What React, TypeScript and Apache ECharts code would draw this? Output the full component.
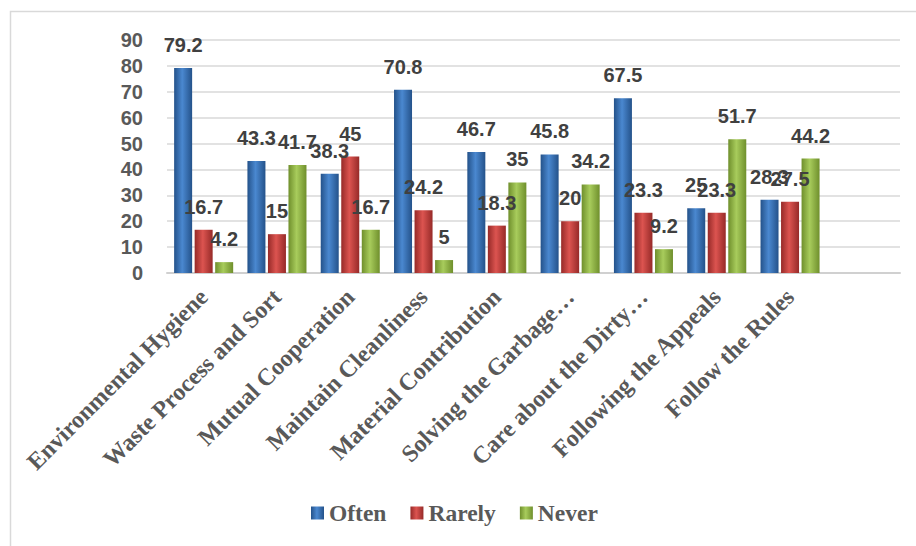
import React, { useEffect, useRef } from "react";
import * as echarts from "echarts";

const categories = [
  "Environmental Hygiene",
  "Waste Process and Sort",
  "Mutual Cooperation",
  "Maintain Cleanliness",
  "Material Contribution",
  "Solving the Garbage…",
  "Care about the Dirty…",
  "Following the Appeals",
  "Follow the Rules",
  "",
];
const often = [79.2, 43.3, 38.3, 70.8, 46.7, 45.8, 67.5, 25, 28.3, null];
const rarely = [16.7, 15, 45, 24.2, 18.3, 20, 23.3, 23.3, 27.5, null];
const never = [4.2, 41.7, 16.7, 5, 35, 34.2, 9.2, 51.7, 44.2, null];
const seriesNames = ["Often", "Rarely", "Never"];

function grad(edge: string, mid: string) {
  return new echarts.graphic.LinearGradient(0, 0, 1, 0, [
    { offset: 0, color: edge },
    { offset: 0.45, color: mid },
    { offset: 1, color: edge },
  ]);
}

export default function App() {
  const ref = useRef<HTMLDivElement>(null);
  useEffect(() => {
    if (!ref.current) return;
    const chart = echarts.init(ref.current, null, { renderer: "svg" });
    const colors = [
      grad("#24528a", "#4a88d0"),
      grad("#962a28", "#dc5450"),
      grad("#6f8f2c", "#a8cc5c"),
    ];
    const datas = [often, rarely, never];
    const labelStyle = {
      show: true,
      position: "top" as const,
      distance: 13,
      fontFamily: "Liberation Sans, Arial, sans-serif",
      fontWeight: "bold" as const,
      fontSize: 20,
      color: "#404040",
    };
    chart.setOption({
      animation: false,
      backgroundColor: "#ffffff",
      graphic: [
        {
          type: "rect",
          shape: { x: 10.5, y: 11.5, width: 960, height: 600 },
          style: { fill: "none", stroke: "#d9d9d9", lineWidth: 1.5 },
          silent: true,
        },
      ],
      grid: { left: 167, right: 16, top: 40, bottom: 273 },
      legend: {
        bottom: 16,
        left: 306,
        itemWidth: 13,
        itemHeight: 13,
        itemGap: 24,
        icon: "rect",
        textStyle: {
          fontFamily: "Liberation Serif, Times New Roman, serif",
          fontWeight: "bold",
          fontSize: 23.5,
          color: "#595959",
        },
        data: seriesNames,
      },
      xAxis: {
        type: "category",
        data: categories,
        axisLine: { show: true, lineStyle: { color: "#d0d0d0", width: 2 } },
        axisTick: { show: false },
        axisLabel: {
          rotate: 45,
          interval: 0,
          margin: 20,
          fontFamily: "Liberation Serif, Times New Roman, serif",
          fontWeight: "bold",
          fontSize: 24,
          color: "#595959",
        },
      },
      yAxis: {
        type: "value",
        min: 0,
        max: 90,
        interval: 10,
        axisLine: { show: false },
        axisTick: { show: false },
        splitLine: { lineStyle: { color: "#d9d9d9", width: 1.5 } },
        axisLabel: {
          margin: 24,
          fontFamily: "Liberation Sans, Arial, sans-serif",
          fontWeight: "bold",
          fontSize: 20,
          color: "#595959",
        },
      },
      series: seriesNames.map((name, i) => ({
        name,
        type: "bar",
        data: datas[i],
        barWidth: 18,
        barGap: "14%",
        itemStyle: { color: colors[i] },
        label: labelStyle,
      })),
    });
    return () => chart.dispose();
  }, []);
  return (
    <div
      ref={ref}
      style={{ position: "fixed", left: 0, top: 0, width: 916, height: 546 }}
    />
  );
}
